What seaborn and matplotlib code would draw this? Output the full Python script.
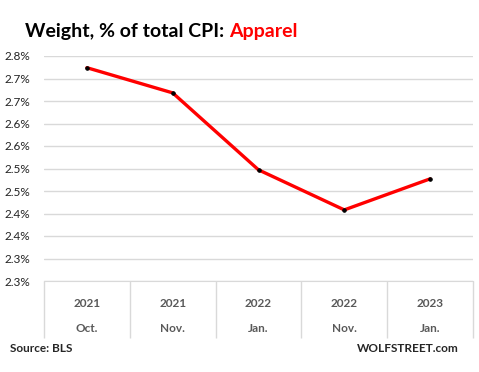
import pandas as pd
import matplotlib.pyplot as plt
import seaborn as sns

# Data
years = ["2021", "2021", "2022", "2022", "2023"]
months = ["Oct.", "Nov.", "Jan.", "Nov.", "Jan."]
weights = [2.774, 2.718, 2.547, 2.458, 2.527]
y_ticks = [2.30, 2.35, 2.40, 2.45, 2.50, 2.55, 2.60, 2.65, 2.70, 2.75, 2.80]
y_labels = ["2.3%", "2.3%", "2.4%", "2.4%", "2.5%", "2.5%", "2.6%", "2.6%", "2.7%", "2.7%", "2.8%"]

df = pd.DataFrame({"period": [f"{y}\n{m}" for y, m in zip(years, months)],
                   "weight": weights})

sns.set_style("white")
plt.rcParams['font.family'] = ['Lato', 'DejaVu Sans']

fig = plt.figure(figsize=(4.79, 3.72), dpi=100)
ax = fig.add_axes([44 / 479, 91 / 372, 429 / 479, 225 / 372])

sns.lineplot(data=df, x="period", y="weight", color="#ff0000", linewidth=2.4,
             marker="o", markersize=2.5, markerfacecolor="black",
             markeredgecolor="black", sort=False, ax=ax)

ax.set_xlim(-0.5, len(df) - 0.5)
ax.set_ylim(2.3, 2.8)
ax.set_yticks(y_ticks)
ax.set_yticklabels(y_labels, fontsize=8.5, color="#222222")
ax.yaxis.grid(True, color="#d9d9d9", linewidth=1)
ax.tick_params(axis="y", length=0, pad=10)

# category separators drawn as long minor ticks below the axis
ax.set_xticks([i - 0.5 for i in range(len(df) + 1)], minor=True)
ax.tick_params(axis="x", which="minor", bottom=True, length=41, width=1,
               color="#d9d9d9", direction="out")
ax.tick_params(axis="x", which="major", bottom=True, length=0, pad=12)
for lbl in ax.get_xticklabels():
    lbl.set_fontsize(8.5)
    lbl.set_fontweight("bold")
    lbl.set_color("#595959")
    lbl.set_linespacing(2.6)

ax.set_xlabel("")
ax.set_ylabel("")
for s in ["top", "right", "left"]:
    ax.spines[s].set_visible(False)
ax.spines["bottom"].set_color("#d9d9d9")

# title with coloured part
t1 = fig.text(25 / 479, 1 - 31 / 372, "Weight, % of total CPI: ", fontsize=14,
              fontweight="bold", color="black", va="center")
fig.canvas.draw()
bb = t1.get_window_extent()
fig.text(bb.x1 / fig.bbox.width, 1 - 31 / 372, "Apparel", fontsize=14,
         fontweight="bold", color="#ff0000", va="center")

fig.text(10 / 479, 1 - 349 / 372, "Source: BLS", fontsize=8.5, fontweight="bold", va="center")
fig.text(459 / 479, 1 - 349 / 372, "WOLFSTREET.com", fontsize=8.5, fontweight="bold",
         va="center", ha="right")

plt.savefig("out.png", dpi=100)
